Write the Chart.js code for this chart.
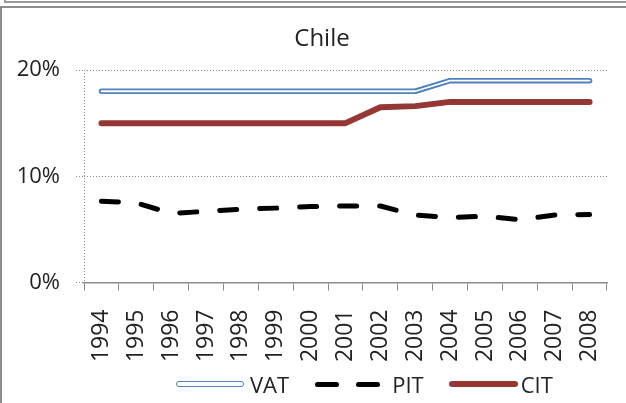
<!DOCTYPE html>
<html>
<head>
<meta charset="utf-8">
<script src="https://cdn.jsdelivr.net/npm/chart.js@4/dist/chart.umd.min.js"></script>
<style>
  body { margin: 0; width: 626px; height: 403px; overflow: hidden; background: #fff; font-family: "Open Sans", sans-serif; }
  .prev { position: absolute; left: 4px; top: -20px; width: 700px; height: 21px; border-left: 2px solid #9a9a9a; border-bottom: 2px solid #9a9a9a; }
  .frame { position: absolute; left: 0; top: 6px; width: 700px; height: 500px; border-top: 2px solid #8c8c8c; border-left: 2px solid #8c8c8c; }
  #chart { position: absolute; left: 0; top: 0; }
  #legend { position: absolute; left: 176px; top: 371px; display: flex; align-items: center; height: 26px; font-size: 22px; line-height: 26px; color: #222; }
  .sw { display: inline-block; height: 6px; border-radius: 3px; box-sizing: border-box; }
</style>
</head>
<body>
<div class="prev"></div>
<div class="frame"></div>
<canvas id="chart" width="640" height="403"></canvas>
<div id="legend"></div>
<script>
var years = ['1994','1995','1996','1997','1998','1999','2000','2001','2002','2003','2004','2005','2006','2007','2008'];
var vat = [18,18,18,18,18,18,18,18,18,18,19,19,19,19,19];
var pit = [7.65,7.5,6.5,6.7,6.9,7.0,7.15,7.2,7.2,6.35,6.1,6.25,5.9,6.35,6.4];
var cit = [15,15,15,15,15,15,15,15,16.5,16.6,17,17,17,17,17];
var yTicks = [0, 10, 20];

var blue = '#4F81BD';
var red = '#953735';
var txt = '#222';
var gray = '#8c8c8c';
var font = { family: 'Open Sans', size: 22 };

new Chart(document.getElementById('chart'), {
  type: 'line',
  data: {
    labels: years,
    datasets: [
      { label: 'VAT inner', data: vat, borderColor: '#fff', borderWidth: 1.8, order: 0 },
      { label: 'VAT', data: vat, borderColor: blue, borderWidth: 5.5, order: 1 },
      { label: 'PIT', data: pit, borderColor: '#000', borderWidth: 5, borderDash: [17, 23], order: 1 },
      { label: 'CIT', data: cit, borderColor: red, borderWidth: 6, order: 1 }
    ]
  },
  options: {
    responsive: false,
    animation: false,
    layout: { padding: { left: 10, right: 6, top: 0, bottom: 33 } },
    elements: {
      point: { radius: 0, hoverRadius: 0 },
      line: { tension: 0, borderCapStyle: 'round', borderJoinStyle: 'round', fill: false }
    },
    plugins: {
      legend: { display: false },
      tooltip: { enabled: false },
      title: {
        display: true, text: 'Chile', color: txt,
        font: { family: 'Open Sans', size: 24, weight: 'normal' },
        padding: { top: 24.6, bottom: 16.6 }
      }
    },
    scales: {
      x: {
        offset: true,
        afterFit: function(s) { s.height = 87.5; },
        ticks: { autoSkip: false, maxRotation: 90, minRotation: 90, font: { family: 'Open Sans', size: 23 }, color: txt, padding: 19 },
        grid: {
          offset: true,
          color: function(c) { return c.index === 0 ? gray : 'rgba(0,0,0,0)'; },
          tickColor: gray, tickLength: 8, lineWidth: 1
        },
        border: { color: gray, width: 1.5, dash: [1, 2] }
      },
      y: {
        min: 0, max: 20,
        afterFit: function(s) { s.width = 74; },
        afterBuildTicks: function(s) { s.ticks = yTicks.map(function(v) { return { value: v }; }); },
        ticks: { font: font, color: txt, padding: 16, callback: function(v) { return v + '%'; } },
        grid: { color: gray, tickColor: gray, tickLength: 8, lineWidth: 1, tickBorderDash: [1, 2] },
        border: { display: false, dash: [1, 2] }
      },
      // empty right-hand box, keeps the title centred over the whole frame
      y2: {
        position: 'right', min: 0, max: 1,
        afterFit: function(s) { s.width = 27; },
        ticks: { display: false },
        grid: { display: false },
        border: { display: false }
      }
    }
  }
});

// legend in HTML so the double VAT line can be shown
var legend = document.getElementById('legend');
legend.innerHTML =
  '<span class="sw" style="width:68px;border:1.8px solid ' + blue + ';background:#fff;margin-right:6px"></span>' +
  '<span style="margin-right:26px">VAT</span>' +
  '<span class="sw" style="width:24px;height:5px;background:#000"></span>' +
  '<span class="sw" style="width:24px;height:5px;background:#000;margin-left:17px;margin-right:12px"></span>' +
  '<span style="margin-right:25px">PIT</span>' +
  '<span class="sw" style="width:69px;background:' + red + ';margin-right:3px"></span>' +
  '<span>CIT</span>';
</script>
</body>
</html>
